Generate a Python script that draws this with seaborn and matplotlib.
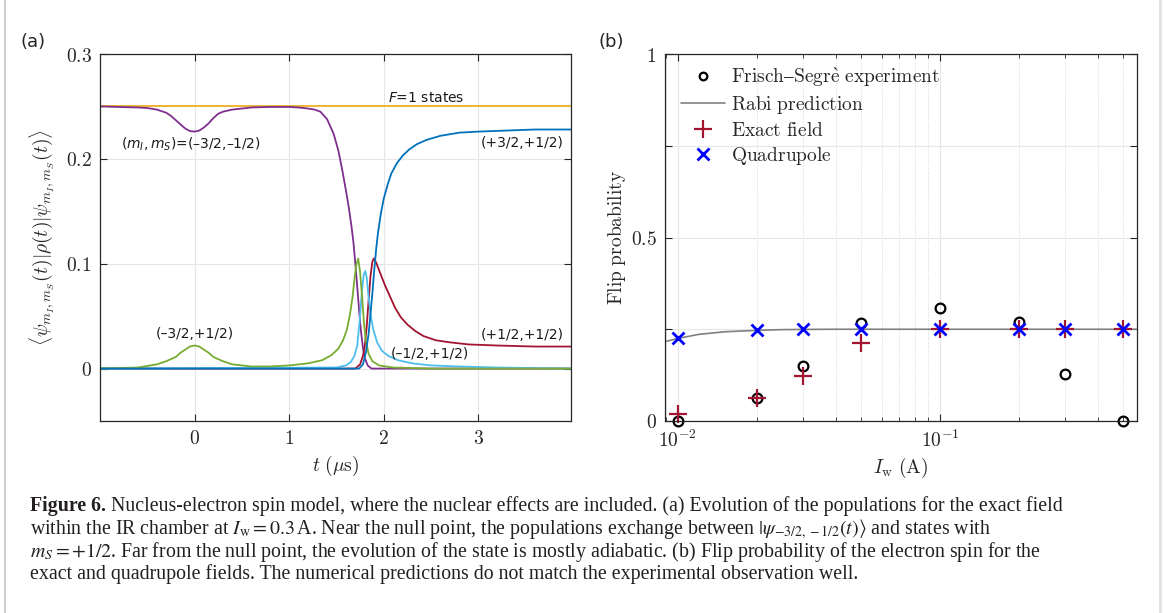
# ====================
#  IMPORTING LIBRARIES
# ====================

import numpy as np
import pandas as pd

import matplotlib
matplotlib.use('Agg')
import matplotlib.pyplot as plt
from matplotlib.lines import Line2D
from matplotlib.ticker import FixedLocator, FuncFormatter, NullFormatter
import seaborn as sns

# ====================
#  DATA
# ====================

# panel (a): populations vs time (us)
t_f1 = [-1.0, 4.0]
p_f1 = [0.25, 0.25]

t_purple = [-1.0, -0.8, -0.6, -0.5, -0.4, -0.3, -0.25, -0.2, -0.15, -0.1, -0.05, 0.0, 0.05, 0.1, 0.15,
            0.2, 0.25, 0.3, 0.4, 0.5, 0.6, 0.8, 1.0, 1.1, 1.2, 1.27, 1.33, 1.40, 1.47, 1.52, 1.56, 1.60,
            1.63, 1.66, 1.68, 1.70, 1.72, 1.74, 1.76, 1.78, 1.80, 1.83, 1.87, 4.0]
p_purple = [0.25, 0.2495, 0.249, 0.2485, 0.247, 0.244, 0.241, 0.237, 0.233, 0.229, 0.2265, 0.226, 0.227,
            0.230, 0.234, 0.239, 0.243, 0.245, 0.247, 0.248, 0.249, 0.2495, 0.2495, 0.249, 0.248, 0.247,
            0.245, 0.238, 0.224, 0.208, 0.190, 0.170, 0.154, 0.135, 0.120, 0.100, 0.078, 0.055, 0.035,
            0.020, 0.010, 0.003, 0.0, 0.0]

t_green = [-1.0, -0.6, -0.4, -0.3, -0.2, -0.15, -0.1, -0.05, 0.0, 0.05, 0.1, 0.15, 0.2, 0.3, 0.4, 0.6,
           0.8, 1.0, 1.2, 1.35, 1.45, 1.52, 1.57, 1.61, 1.64, 1.67, 1.69, 1.71, 1.73, 1.75, 1.77, 1.79,
           1.81, 1.84, 1.88, 1.95, 2.1, 2.5, 4.0]
p_green = [0.0, 0.001, 0.004, 0.007, 0.011, 0.015, 0.018, 0.021, 0.022, 0.021, 0.018, 0.015, 0.011, 0.007,
           0.004, 0.002, 0.002, 0.003, 0.005, 0.008, 0.013, 0.019, 0.027, 0.037, 0.050, 0.068, 0.085,
           0.099, 0.105, 0.092, 0.070, 0.045, 0.027, 0.014, 0.007, 0.003, 0.001, 0.0, 0.0]

t_lblue = [-1.0, 1.5, 1.6, 1.65, 1.69, 1.72, 1.745, 1.77, 1.79, 1.805, 1.82, 1.84, 1.86, 1.89, 1.93,
           1.98, 2.05, 2.15, 2.3, 2.5, 2.8, 3.2, 4.0]
p_lblue = [0.0, 0.001, 0.003, 0.006, 0.012, 0.022, 0.045, 0.075, 0.090, 0.093, 0.087, 0.068, 0.052, 0.037,
           0.025, 0.017, 0.012, 0.008, 0.005, 0.003, 0.002, 0.001, 0.0]

t_red = [-1.0, 1.7, 1.75, 1.78, 1.80, 1.82, 1.84, 1.86, 1.88, 1.895, 1.92, 1.95, 1.98, 2.02, 2.07, 2.12,
         2.18, 2.25, 2.33, 2.42, 2.55, 2.7, 2.9, 3.2, 3.6, 4.0]
p_red = [0.0, 0.0, 0.004, 0.012, 0.022, 0.040, 0.065, 0.088, 0.102, 0.105, 0.101, 0.094, 0.087, 0.078,
         0.068, 0.058, 0.049, 0.042, 0.036, 0.031, 0.027, 0.025, 0.023, 0.022, 0.021, 0.021]

t_blue = [-1.0, 1.74, 1.78, 1.81, 1.84, 1.86, 1.88, 1.90, 1.92, 1.94, 1.97, 2.00, 2.04, 2.08, 2.14, 2.20,
          2.27, 2.35, 2.45, 2.6, 2.8, 3.0, 3.3, 3.6, 4.0]
p_blue = [0.0, 0.0, 0.004, 0.015, 0.033, 0.052, 0.072, 0.094, 0.114, 0.130, 0.148, 0.162, 0.175, 0.186,
          0.196, 0.203, 0.209, 0.214, 0.218, 0.222, 0.225, 0.226, 0.227, 0.228, 0.228]

# panel (b): flip probability vs wire current (A)
I_w = [0.01, 0.02, 0.03, 0.05, 0.1, 0.2, 0.3, 0.5]
p_experiment = [0.0, 0.063, 0.150, 0.268, 0.309, 0.270, 0.128, 0.0]
p_exact = [0.019, 0.063, 0.123, 0.212, 0.25, 0.25, 0.25, 0.25]
p_quadrupole = [0.226, 0.248, 0.25, 0.252, 0.25, 0.25, 0.25, 0.25]

I_rabi = [0.0089, 0.01, 0.012, 0.015, 0.02, 0.025, 0.03, 0.04, 0.05, 0.1, 0.2, 0.3, 0.57]
p_rabi = [0.216, 0.225, 0.236, 0.243, 0.247, 0.249, 0.2495, 0.25, 0.25, 0.25, 0.25, 0.25, 0.25]

caption_lines = [
    r'within the IR chamber at $I_\mathrm{w} = 0.3\,$A. Near the null point, the populations exchange between '
    r'$|\psi_{-3/2,-1/2}(t)\rangle$ and states with',
    r'$m_S = +1/2$. Far from the null point, the evolution of the state is mostly adiabatic. '
    r'(b) Flip probability of the electron spin for the',
    'exact and quadrupole fields. The numerical predictions do not match the experimental observation well.',
]

# ====================
#  STYLE
# ====================

sns.set_style('ticks')
plt.rcParams['font.family'] = ['DejaVu Sans']
plt.rcParams['mathtext.fontset'] = 'cm'

W, H = 1165, 613
fig = plt.figure(figsize=(W / 100, H / 100), dpi=100)
ax_a = fig.add_axes([100 / W, 1 - 421 / H, 471 / W, 367 / H])
ax_b = fig.add_axes([665 / W, 1 - 421 / H, 472 / W, 367 / H])

GRID = '#e6e6e6'
SPINE = '#262626'


def math_fmt(v, pos):
    return f'${v:g}$'


# ====================
#  PANEL (a)
# ====================

curves = [
    ('F1', t_f1, p_f1, '#EDB120'),
    ('purple', t_purple, p_purple, '#7E2F8E'),
    ('red', t_red, p_red, '#A2142F'),
    ('lblue', t_lblue, p_lblue, '#4DBEEE'),
    ('green', t_green, p_green, '#77AC30'),
    ('blue', t_blue, p_blue, '#0072BD'),
]
df_a = pd.concat([pd.DataFrame({'t': t, 'p': p, 'state': name}) for name, t, p, _ in curves])
palette = {name: c for name, _, _, c in curves}

sns.lineplot(data=df_a, x='t', y='p', hue='state', palette=palette, ax=ax_a,
             estimator=None, sort=False, lw=1.3, legend=False)

ax_a.set_xlim(-1, 3.98)
ax_a.set_ylim(-0.05, 0.3)
ax_a.set_xticks([0, 1, 2, 3])
ax_a.set_yticks([0, 0.1, 0.2, 0.3])
ax_a.xaxis.set_major_formatter(FuncFormatter(math_fmt))
ax_a.yaxis.set_major_formatter(FuncFormatter(math_fmt))
ax_a.grid(True, color=GRID, lw=0.8)
ax_a.set_axisbelow(True)
ax_a.set_xlabel(r'$t\ (\mu\mathrm{s})$', fontsize=14, labelpad=4)
ax_a.set_ylabel(r'$\langle\psi_{m_I,m_S}(t)|\rho(t)|\psi_{m_I,m_S}(t)\rangle$', fontsize=14, labelpad=6)

ann = dict(fontsize=10, color='#1a1a1a', math_fontfamily='dejavusans')
ax_a.text(2.45, 0.258, r'$F$=1 states', ha='center', va='center', **ann)
ax_a.text(-0.78, 0.214, r'$(m_I,m_S)$=(–3/2,–1/2)', ha='left', va='center', **ann)
ax_a.text(3.9, 0.215, '(+3/2,+1/2)', ha='right', va='center', **ann)
ax_a.text(0.0, 0.033, '(–3/2,+1/2)', ha='center', va='center', **ann)
ax_a.text(3.9, 0.032, '(+1/2,+1/2)', ha='right', va='center', **ann)
ax_a.text(2.07, 0.014, '(–1/2,+1/2)', ha='left', va='center', **ann)

# ====================
#  PANEL (b)
# ====================

sns.lineplot(x=I_w, y=p_experiment, ax=ax_b, estimator=None, sort=False, linestyle='',
             marker='o', ms=7, mfc='none', mec='black', mew=1.6, color='black', clip_on=False,
             label=r'$\mathrm{Frisch–Segr\grave{e}\ experiment}$')
sns.lineplot(x=I_rabi, y=p_rabi, ax=ax_b, estimator=None, sort=False, color='#808080', lw=1.2,
             label=r'$\mathrm{Rabi\ prediction}$')
sns.lineplot(x=I_w, y=p_exact, ax=ax_b, estimator=None, sort=False, linestyle='',
             marker='+', ms=13, mew=1.6, color='#A2142F', mec='#A2142F', clip_on=False,
             label=r'$\mathrm{Exact\ field}$')
sns.lineplot(x=I_w, y=p_quadrupole, ax=ax_b, estimator=None, sort=False, linestyle='',
             marker='x', ms=9, mew=2.0, color='#0000FF', mec='#0000FF', clip_on=False,
             label=r'$\mathrm{Quadrupole}$')

ax_b.set_xscale('log')
ax_b.set_xlim(0.00893, 0.565)
ax_b.set_ylim(0, 1)
ax_b.xaxis.set_major_locator(FixedLocator([0.01, 0.1]))
ax_b.xaxis.set_major_formatter(FuncFormatter(lambda v, p: {0.01: '$10^{-2}$', 0.1: '$10^{-1}$'}.get(round(v, 3), '')))
minor = [0.009] + [k * 0.01 for k in range(2, 10)] + [k * 0.1 for k in range(2, 6)]
ax_b.xaxis.set_minor_locator(FixedLocator(minor))
ax_b.xaxis.set_minor_formatter(NullFormatter())
ax_b.set_yticks([0, 0.25, 0.5, 0.75, 1])
ax_b.yaxis.set_major_formatter(FuncFormatter(lambda v, p: {0: '$0$', 0.5: '$0.5$', 1: '$1$'}.get(v, '')))
ax_b.grid(True, which='major', color=GRID, lw=0.8)
ax_b.grid(True, which='minor', axis='x', color='#d5d5d5', lw=0.7, linestyle=':')
ax_b.set_axisbelow(True)
ax_b.set_xlabel(r'$I_\mathrm{w}\ (\mathrm{A})$', fontsize=14, labelpad=4)
ax_b.set_ylabel(r'$\mathrm{Flip\ probability}$', fontsize=14, labelpad=2)

leg = ax_b.legend(loc='upper left', frameon=False, fontsize=14, handlelength=2.3,
                  handletextpad=0.3, labelspacing=0.25, borderaxespad=0.4,
                  bbox_to_anchor=(0.0, 1.01))
for h in leg.legend_handles:
    if h.get_marker() == 'o':
        h.set_markersize(5.5)

for ax in (ax_a, ax_b):
    ax.tick_params(which='both', direction='in', top=True, right=True, colors=SPINE,
                   labelcolor='#262626', labelsize=14, pad=6)
    ax.tick_params(which='major', length=5, width=0.8)
    ax.tick_params(which='minor', length=3, width=0.6)
    for s in ax.spines.values():
        s.set_color(SPINE)
        s.set_linewidth(0.9)
        s.set_visible(True)

# ====================
#  PANEL LABELS, BORDER, CAPTION
# ====================

fig.text(20 / W, 1 - 42 / H, '(a)', fontsize=13, va='center', ha='left')
fig.text(598 / W, 1 - 42 / H, '(b)', fontsize=13, va='center', ha='left')

fig.add_artist(Line2D([5 / W, 5 / W], [0, 1], transform=fig.transFigure, color='#d0d0d0', lw=1.6))
fig.add_artist(Line2D([1160 / W, 1160 / W], [0, 1], transform=fig.transFigure, color='#e0e0e0', lw=2.0))

cap = dict(fontsize=14.3, family='Liberation Serif', color='#231f20', math_fontfamily='stix', va='baseline')
renderer = fig.canvas.get_renderer()
x0 = 30 / W
first = fig.text(x0, 1 - 511 / H, 'Figure 6.', fontweight='bold', **cap)
bb = first.get_window_extent(renderer)
fig.text(bb.x1 / W, 1 - 511 / H,
         ' Nucleus-electron spin model, where the nuclear effects are included. '
         '(a) Evolution of the populations for the exact field', **cap)
for i, line in enumerate(caption_lines):
    fig.text(x0, 1 - (534 + 22.7 * i) / H, line, **cap)

fig.savefig('out.png', dpi=100)
